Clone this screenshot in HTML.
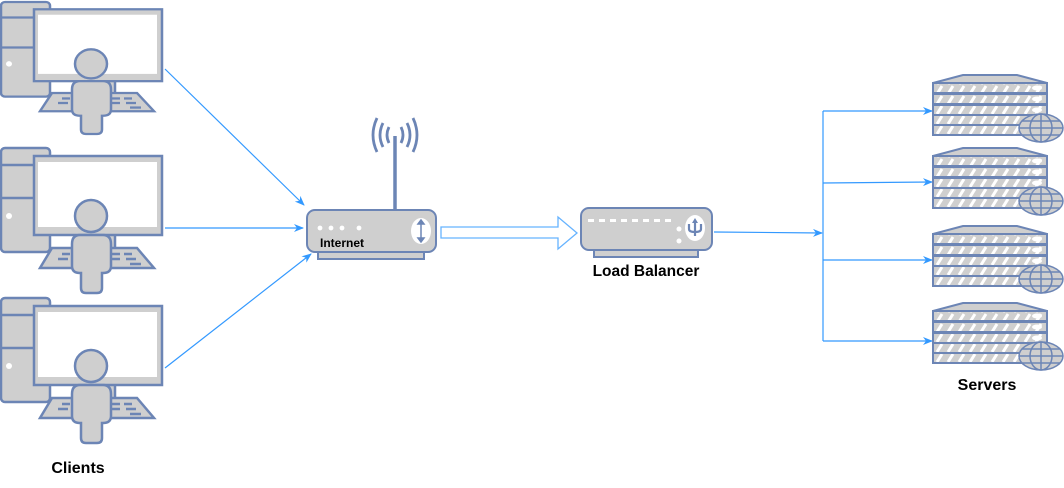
<!DOCTYPE html>
<html><head><meta charset="utf-8"><style>
html,body{margin:0;padding:0;background:#fff;}
svg{display:block;}
text{font-family:"Liberation Sans",Arial,sans-serif;font-weight:bold;fill:#000;}
</style></head><body>
<svg width="1064" height="488" viewBox="0 0 1064 488" xmlns="http://www.w3.org/2000/svg">
<defs>
<marker id="ah" markerWidth="10" markerHeight="8" refX="9" refY="4" orient="auto" markerUnits="userSpaceOnUse">
<path d="M0,0 L10,4 L0,8 L3,4 Z" fill="#3399ff"/>
</marker>
<pattern id="stripe" width="11" height="10" patternUnits="userSpaceOnUse">
<rect width="11" height="10" fill="#cfcfcf"/>
<path d="M2,9 L7,1" stroke="#fff" stroke-width="3"/>
</pattern>
<g id="client" stroke="#6c85b5" stroke-width="2.5" fill="#cfcfcf">
<rect x="1" y="0" width="49" height="104" rx="4"/>
<line x1="1" y1="17" x2="50" y2="17"/>
<line x1="1" y1="50" x2="50" y2="50"/>
<circle cx="9" cy="68" r="3" fill="#fff" stroke="none"/>
<rect x="80" y="85" width="35" height="16"/>
<path d="M52,100 L137,100 L154,120 L40,120 Z"/>
<g stroke="#6c85b5" stroke-width="2.5">
<line x1="62" y1="106" x2="70" y2="106"/><line x1="112" y1="106" x2="120" y2="106"/><line x1="124" y1="106" x2="132" y2="106"/>
<line x1="58" y1="111" x2="68" y2="111"/><line x1="112" y1="111" x2="120" y2="111"/><line x1="126" y1="111" x2="136" y2="111"/>
<line x1="130" y1="116" x2="141" y2="116"/>
</g>
<rect x="34" y="8" width="128" height="79"/>
<rect x="38" y="14" width="119" height="65" fill="#fff" stroke="none"/>
<circle cx="91" cy="68" r="16"/>
<path d="M80,87 L103,87 Q111,87 111,96 L111,118 Q111,125 103,125 L102,125 L102,140 Q102,145 97,145 L86,145 Q81,145 81,140 L81,125 L80,125 Q72,125 72,118 L72,96 Q72,87 80,87 Z"/>
</g>
<g id="server" stroke="#6c85b5" stroke-width="2">
<path d="M963,0 L1017,0 L1047,8 L933,8 Z" fill="#cfcfcf"/>
<rect x="933" y="8" width="114" height="10" fill="url(#stripe)"/>
<rect x="933" y="19" width="114" height="10" fill="url(#stripe)"/>
<rect x="933" y="30" width="114" height="10" fill="url(#stripe)"/>
<rect x="933" y="40" width="114" height="10" fill="url(#stripe)"/>
<rect x="933" y="50" width="114" height="10" fill="url(#stripe)"/>
<ellipse cx="1037" cy="13" rx="5" ry="2.5" fill="#fff" stroke="none"/>
<ellipse cx="1037" cy="24" rx="5" ry="2.5" fill="#fff" stroke="none"/>
<ellipse cx="1037" cy="35" rx="5" ry="2.5" fill="#fff" stroke="none"/>
<g fill="#cfcfcf" stroke-width="1.5">
<ellipse cx="1041" cy="53" rx="22" ry="14"/>
<ellipse cx="1041" cy="53" rx="11" ry="14" fill="none"/>
<line x1="1041" y1="39" x2="1041" y2="67"/>
<line x1="1019" y1="53" x2="1063" y2="53"/>
<line x1="1022" y1="46" x2="1060" y2="46"/>
<line x1="1022" y1="60" x2="1060" y2="60"/>
</g>
</g>
</defs>

<use href="#client" transform="translate(0,2) scale(1,0.91)"/>
<use href="#client" transform="translate(0,148)"/>
<use href="#client" transform="translate(0,298)"/>

<text x="78" y="473" font-size="16" text-anchor="middle">Clients</text>

<g stroke="#3399ff" stroke-width="1.2" fill="none">
<line x1="165" y1="69" x2="304" y2="205" marker-end="url(#ah)"/>
<line x1="165" y1="228" x2="303" y2="228" marker-end="url(#ah)"/>
<line x1="165" y1="368" x2="311" y2="254" marker-end="url(#ah)"/>
<line x1="714" y1="232" x2="822" y2="233" marker-end="url(#ah)"/>
<line x1="823" y1="111" x2="823" y2="341"/>
<line x1="823" y1="111" x2="932" y2="111" marker-end="url(#ah)"/>
<line x1="823" y1="183" x2="932" y2="182" marker-end="url(#ah)"/>
<line x1="823" y1="260" x2="932" y2="260" marker-end="url(#ah)"/>
<line x1="823" y1="341" x2="932" y2="341" marker-end="url(#ah)"/>
</g>

<!-- router -->
<g stroke="#6c85b5" stroke-width="2.8" fill="none">
<line x1="395" y1="136" x2="395" y2="210" stroke-width="3.5"/>
<path d="M389,127 Q385,135 389,143"/><path d="M401,127 Q405,135 401,143"/>
<path d="M383,123 Q377,135 383,147"/><path d="M407,123 Q413,135 407,147"/>
<path d="M377,118 Q369,135 377,152"/><path d="M413,118 Q421,135 413,152"/>
</g>
<g stroke="#6c85b5" stroke-width="2" fill="#cfcfcf">
<rect x="318" y="250" width="106" height="9"/>
<rect x="307" y="210" width="129" height="42" rx="8"/>
</g>
<g fill="#fff">
<circle cx="320" cy="228" r="2.4"/><circle cx="331" cy="228" r="2.4"/><circle cx="342" cy="228" r="2.4"/><circle cx="359" cy="228" r="2.4"/>
<ellipse cx="421" cy="231" rx="10" ry="13"/>
</g>
<g stroke="#6c85b5" stroke-width="1.5" fill="#6c85b5">
<line x1="421" y1="223" x2="421" y2="239"/>
<path d="M418,224 L421,220 L424,224 Z"/><path d="M418,238 L421,242 L424,238 Z"/>
</g>
<text x="320" y="247" font-size="12">Internet</text>

<!-- hollow arrow -->
<path d="M441,227 L558,227 L558,217 L577,233 L558,249 L558,238 L441,238 Z" fill="#fff" stroke="#66b3ff" stroke-width="1.3"/>

<!-- load balancer -->
<g stroke="#6c85b5" stroke-width="2" fill="#cfcfcf">
<rect x="594" y="249" width="104" height="8"/>
<rect x="581" y="208" width="131" height="42" rx="8"/>
</g>
<g fill="#fff">
<rect x="588" y="219" width="6" height="3"/><rect x="599" y="219" width="6" height="3"/><rect x="610" y="219" width="6" height="3"/><rect x="621" y="219" width="6" height="3"/><rect x="632" y="219" width="6" height="3"/><rect x="643" y="219" width="6" height="3"/><rect x="654" y="219" width="6" height="3"/><rect x="665" y="219" width="6" height="3"/>
<circle cx="679" cy="229" r="2.5"/><circle cx="679" cy="241" r="2.5"/>
<ellipse cx="695" cy="228" rx="10" ry="13"/>
</g>
<g stroke="#6c85b5" stroke-width="2.2" fill="none">
<line x1="695" y1="222" x2="695" y2="236"/>
<path d="M689,224 L689,229 Q689,232 695,232 Q701,232 701,229 L701,224"/>
</g>
<path d="M692,223 L695,218 L698,223 Z" fill="#6c85b5"/>
<text x="646" y="276" font-size="15.5" text-anchor="middle">Load Balancer</text>

<!-- servers -->
<use href="#server" transform="translate(0,75)"/>
<use href="#server" transform="translate(0,148)"/>
<use href="#server" transform="translate(0,226)"/>
<use href="#server" transform="translate(0,303)"/>
<text x="987" y="390" font-size="16" text-anchor="middle">Servers</text>
</svg>
</body></html>
